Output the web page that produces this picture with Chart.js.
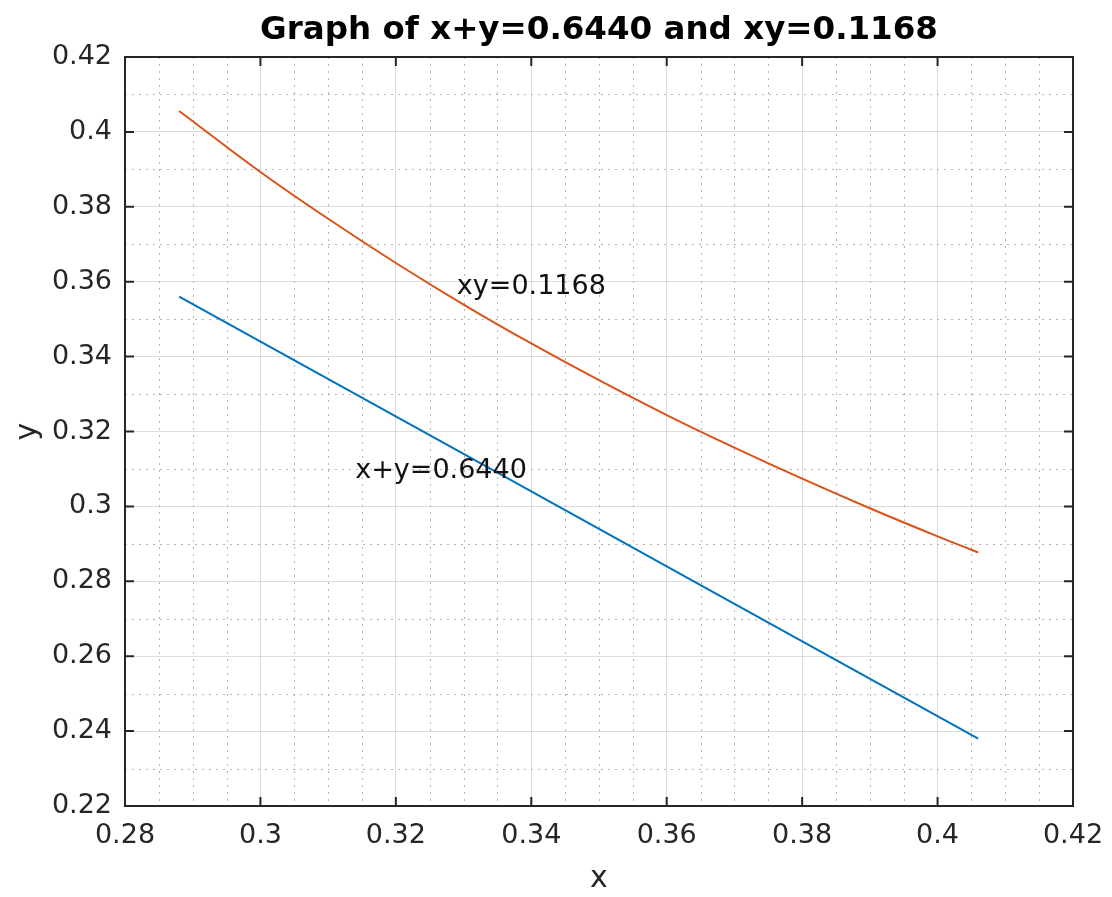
<!DOCTYPE html>
<html>
<head>
<meta charset="utf-8">
<script src="https://cdn.jsdelivr.net/npm/chart.js@4/dist/chart.umd.min.js"></script>
<style>
  body { margin: 0; background: #fff; }
  #wrap { width: 1112px; height: 897px; }
</style>
</head>
<body>
<div id="wrap"><canvas id="myChart" width="1112" height="897"></canvas></div>
<script>
// values
var lineX = [0.288, 0.330, 0.370, 0.406];
var lineY = [0.356, 0.314, 0.274, 0.238];

var curveX = [0.288, 0.300, 0.310, 0.320, 0.330, 0.340, 0.350, 0.360, 0.370, 0.380, 0.390, 0.400, 0.406];
var curveY = [0.4056, 0.3893, 0.3768, 0.3650, 0.3539, 0.3435, 0.3337, 0.3244, 0.3157, 0.3074, 0.2995, 0.2920, 0.2877];

var xTicks = [0.28, 0.30, 0.32, 0.34, 0.36, 0.38, 0.40, 0.42];
var yTicks = [0.22, 0.24, 0.26, 0.28, 0.30, 0.32, 0.34, 0.36, 0.38, 0.40, 0.42];

var textLabels = ['xy=0.1168', 'x+y=0.6440'];
var textX = [0.329, 0.314];
var textY = [0.3586, 0.3094];

var titleText = 'Graph of x+y=0.6440 and xy=0.1168';

function toPoints(xs, ys) {
    return xs.map(function (x, i) { return { x: x, y: ys[i] }; });
}

function fmt(v) {
    return String(Number(v.toFixed(2)));
}

var fontFam = '"DejaVu Sans", sans-serif';
var axisColor = '#262626';

// minor grid, box, inside ticks, title, text annotations
var matlabAxes = {
    id: 'matlabAxes',
    beforeDatasetsDraw: function (chart) {
        var ctx = chart.ctx, a = chart.chartArea;
        var xs = chart.scales.x, ys = chart.scales.y;
        ctx.save();
        ctx.strokeStyle = '#b4b4b4';
        ctx.lineWidth = 1;
        ctx.setLineDash([2, 5]);
        for (var i = 0; i < xTicks.length - 1; i++) {
            for (var k = 1; k < 4; k++) {
                var v = xTicks[i] + (xTicks[i + 1] - xTicks[i]) * k / 4;
                var px = Math.round(xs.getPixelForValue(v)) + 0.5;
                ctx.beginPath(); ctx.moveTo(px, a.top); ctx.lineTo(px, a.bottom); ctx.stroke();
            }
        }
        for (var j = 0; j < yTicks.length - 1; j++) {
            var vy = (yTicks[j] + yTicks[j + 1]) / 2;
            var py = Math.round(ys.getPixelForValue(vy)) + 0.5;
            ctx.beginPath(); ctx.moveTo(a.left, py); ctx.lineTo(a.right, py); ctx.stroke();
        }
        ctx.restore();
    },
    afterDraw: function (chart) {
        var ctx = chart.ctx, a = chart.chartArea;
        var xs = chart.scales.x, ys = chart.scales.y;
        ctx.save();
        ctx.strokeStyle = axisColor;
        ctx.lineWidth = 2;
        ctx.setLineDash([]);
        ctx.strokeRect(a.left, a.top, a.right - a.left, a.bottom - a.top);
        var tl = 9;
        xTicks.forEach(function (v) {
            var px = xs.getPixelForValue(v);
            ctx.beginPath();
            ctx.moveTo(px, a.bottom); ctx.lineTo(px, a.bottom - tl);
            ctx.moveTo(px, a.top); ctx.lineTo(px, a.top + tl);
            ctx.stroke();
        });
        yTicks.forEach(function (v) {
            var py = ys.getPixelForValue(v);
            ctx.beginPath();
            ctx.moveTo(a.left, py); ctx.lineTo(a.left + tl, py);
            ctx.moveTo(a.right, py); ctx.lineTo(a.right - tl, py);
            ctx.stroke();
        });
        // title centred over the axes
        ctx.fillStyle = '#000';
        ctx.font = 'bold 32.5px ' + fontFam;
        ctx.textAlign = 'center';
        ctx.textBaseline = 'middle';
        ctx.fillText(titleText, (a.left + a.right) / 2, 31);
        // text labels
        ctx.fillStyle = '#111';
        ctx.font = '27px ' + fontFam;
        ctx.textAlign = 'left';
        textLabels.forEach(function (t, i) {
            ctx.fillText(t, xs.getPixelForValue(textX[i]), ys.getPixelForValue(textY[i]));
        });
        ctx.restore();
    }
};

var ctx = document.getElementById('myChart').getContext('2d');
var chart = new Chart(ctx, {
    type: 'scatter',
    data: {
        datasets: [{
            label: 'x+y=0.6440',
            data: toPoints(lineX, lineY),
            showLine: true,
            borderColor: '#0072BD',
            borderWidth: 2,
            pointRadius: 0,
            fill: false
        }, {
            label: 'xy=0.1168',
            data: toPoints(curveX, curveY),
            showLine: true,
            borderColor: '#D95319',
            borderWidth: 2,
            pointRadius: 0,
            tension: 0.4,
            cubicInterpolationMode: 'monotone',
            fill: false
        }]
    },
    options: {
        responsive: false,
        animation: false,
        layout: { padding: { left: 0, right: 39, top: 57, bottom: 0 } },
        plugins: {
            legend: { display: false },
            tooltip: { enabled: false },
            title: { display: false }
        },
        scales: {
            x: {
                type: 'linear',
                min: 0.28,
                max: 0.42,
                afterBuildTicks: function (scale) {
                    scale.ticks = xTicks.map(function (v) { return { value: v }; });
                },
                afterFit: function (scale) {
                    scale.height = 91;
                    scale.paddingLeft = 0;
                    scale.paddingRight = 0;
                },
                ticks: {
                    color: axisColor,
                    padding: 14,
                    maxRotation: 0,
                    font: { family: fontFam, size: 27, lineHeight: 1.2 },
                    callback: function (v) { return fmt(v); }
                },
                grid: { color: '#dcdcdc', lineWidth: 1, drawTicks: false },
                border: { display: false },
                title: {
                    display: true,
                    text: 'x',
                    color: axisColor,
                    font: { family: fontFam, size: 30, lineHeight: 1.2 },
                    padding: { top: 0, bottom: 0 }
                }
            },
            y: {
                type: 'linear',
                min: 0.22,
                max: 0.42,
                afterBuildTicks: function (scale) {
                    scale.ticks = yTicks.map(function (v) { return { value: v }; });
                },
                afterFit: function (scale) {
                    scale.width = 125;
                    scale.paddingTop = 0;
                    scale.paddingBottom = 0;
                },
                ticks: {
                    color: axisColor,
                    padding: 13,
                    font: { family: fontFam, size: 27, lineHeight: 1.2 },
                    callback: function (v) { return fmt(v); }
                },
                grid: { color: '#dcdcdc', lineWidth: 1, drawTicks: false },
                border: { display: false },
                title: {
                    display: true,
                    text: 'y',
                    color: axisColor,
                    font: { family: fontFam, size: 30, lineHeight: 1.2 },
                    padding: { top: 10, bottom: 0 }
                }
            }
        }
    },
    plugins: [matlabAxes]
});
</script>
</body>
</html>
